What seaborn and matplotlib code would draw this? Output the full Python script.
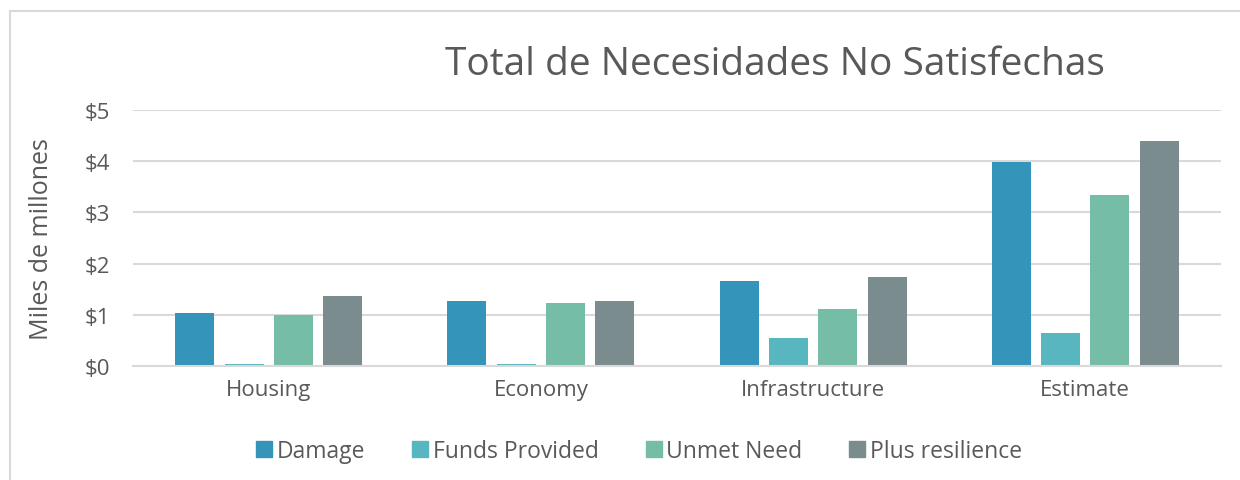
import matplotlib
matplotlib.use("Agg")
import matplotlib.pyplot as plt
import seaborn as sns
import pandas as pd
from matplotlib.ticker import FuncFormatter
from matplotlib.lines import Line2D

categories = ["Housing", "Economy", "Infrastructure", "Estimate"]
series = ["Damage", "Funds Provided", "Unmet Need", "Plus resilience"]
damage = [1.03, 1.27, 1.66, 3.99]
funds_provided = [0.04, 0.03, 0.55, 0.64]
unmet_need = [0.99, 1.24, 1.11, 3.34]
plus_resilience = [1.36, 1.27, 1.74, 4.39]
colors = ["#3494BA", "#58B6C0", "#75BDA7", "#7A8C8E"]

rows = []
for name, vals in zip(series, [damage, funds_provided, unmet_need, plus_resilience]):
    for cat, v in zip(categories, vals):
        rows.append({"category": cat, "series": name, "value": v})
df = pd.DataFrame(rows)

sns.set_style("white")
plt.rcParams["font.family"] = ["Open Sans", "DejaVu Sans"]
txt = "#595959"

fig = plt.figure(figsize=(12.4, 4.81), dpi=100)
ax = fig.add_axes([0.107, 0.237, 0.878, 0.532])

sns.barplot(data=df, x="category", y="value", hue="series", order=categories,
            hue_order=series, palette=colors, saturation=1, width=0.725, gap=0.21,
            linewidth=0, ax=ax, legend=False)

ax.set_ylim(0, 5)
ax.set_xlim(-0.5, 3.5)
ax.set_yticks(range(6))
ax.yaxis.set_major_formatter(FuncFormatter(lambda v, p: f"${int(v)}"))
ax.grid(axis="y", color="#D9D9D9", linewidth=1.5)
ax.set_axisbelow(True)
for s in ["top", "right", "left"]:
    ax.spines[s].set_visible(False)
ax.spines["bottom"].set_color("#D9D9D9")
ax.spines["bottom"].set_linewidth(1.5)
ax.tick_params(axis="both", length=0, labelsize=16, labelcolor=txt)
ax.tick_params(axis="x", pad=9)
ax.tick_params(axis="y", pad=16)
ax.set_xlabel("")
ax.set_ylabel("Miles de millones", fontsize=18, color=txt, labelpad=22)

fig.text(0.625, 0.865, "Total de Necesidades No Satisfechas", ha="center", va="center",
         fontsize=28, color=txt)

handles = [Line2D([], [], marker="s", linestyle="none", markersize=12, color=c) for c in colors]
fig.legend(handles, series, loc="center", bbox_to_anchor=(0.514, 0.06), ncol=4,
           frameon=False, fontsize=16.5, labelcolor=txt, handletextpad=0.05,
           columnspacing=1.9, handlelength=1.0)

# chart frame (only left and top edges show in the crop)
fig.add_artist(Line2D([10 / 1240, 10 / 1240], [0, 1 - 12 / 481], transform=fig.transFigure,
                      color="#D9D9D9", linewidth=1.5))
fig.add_artist(Line2D([10 / 1240, 1], [1 - 12 / 481, 1 - 12 / 481], transform=fig.transFigure,
                      color="#D9D9D9", linewidth=1.5))

fig.savefig("out.png", dpi=100, facecolor="white")
